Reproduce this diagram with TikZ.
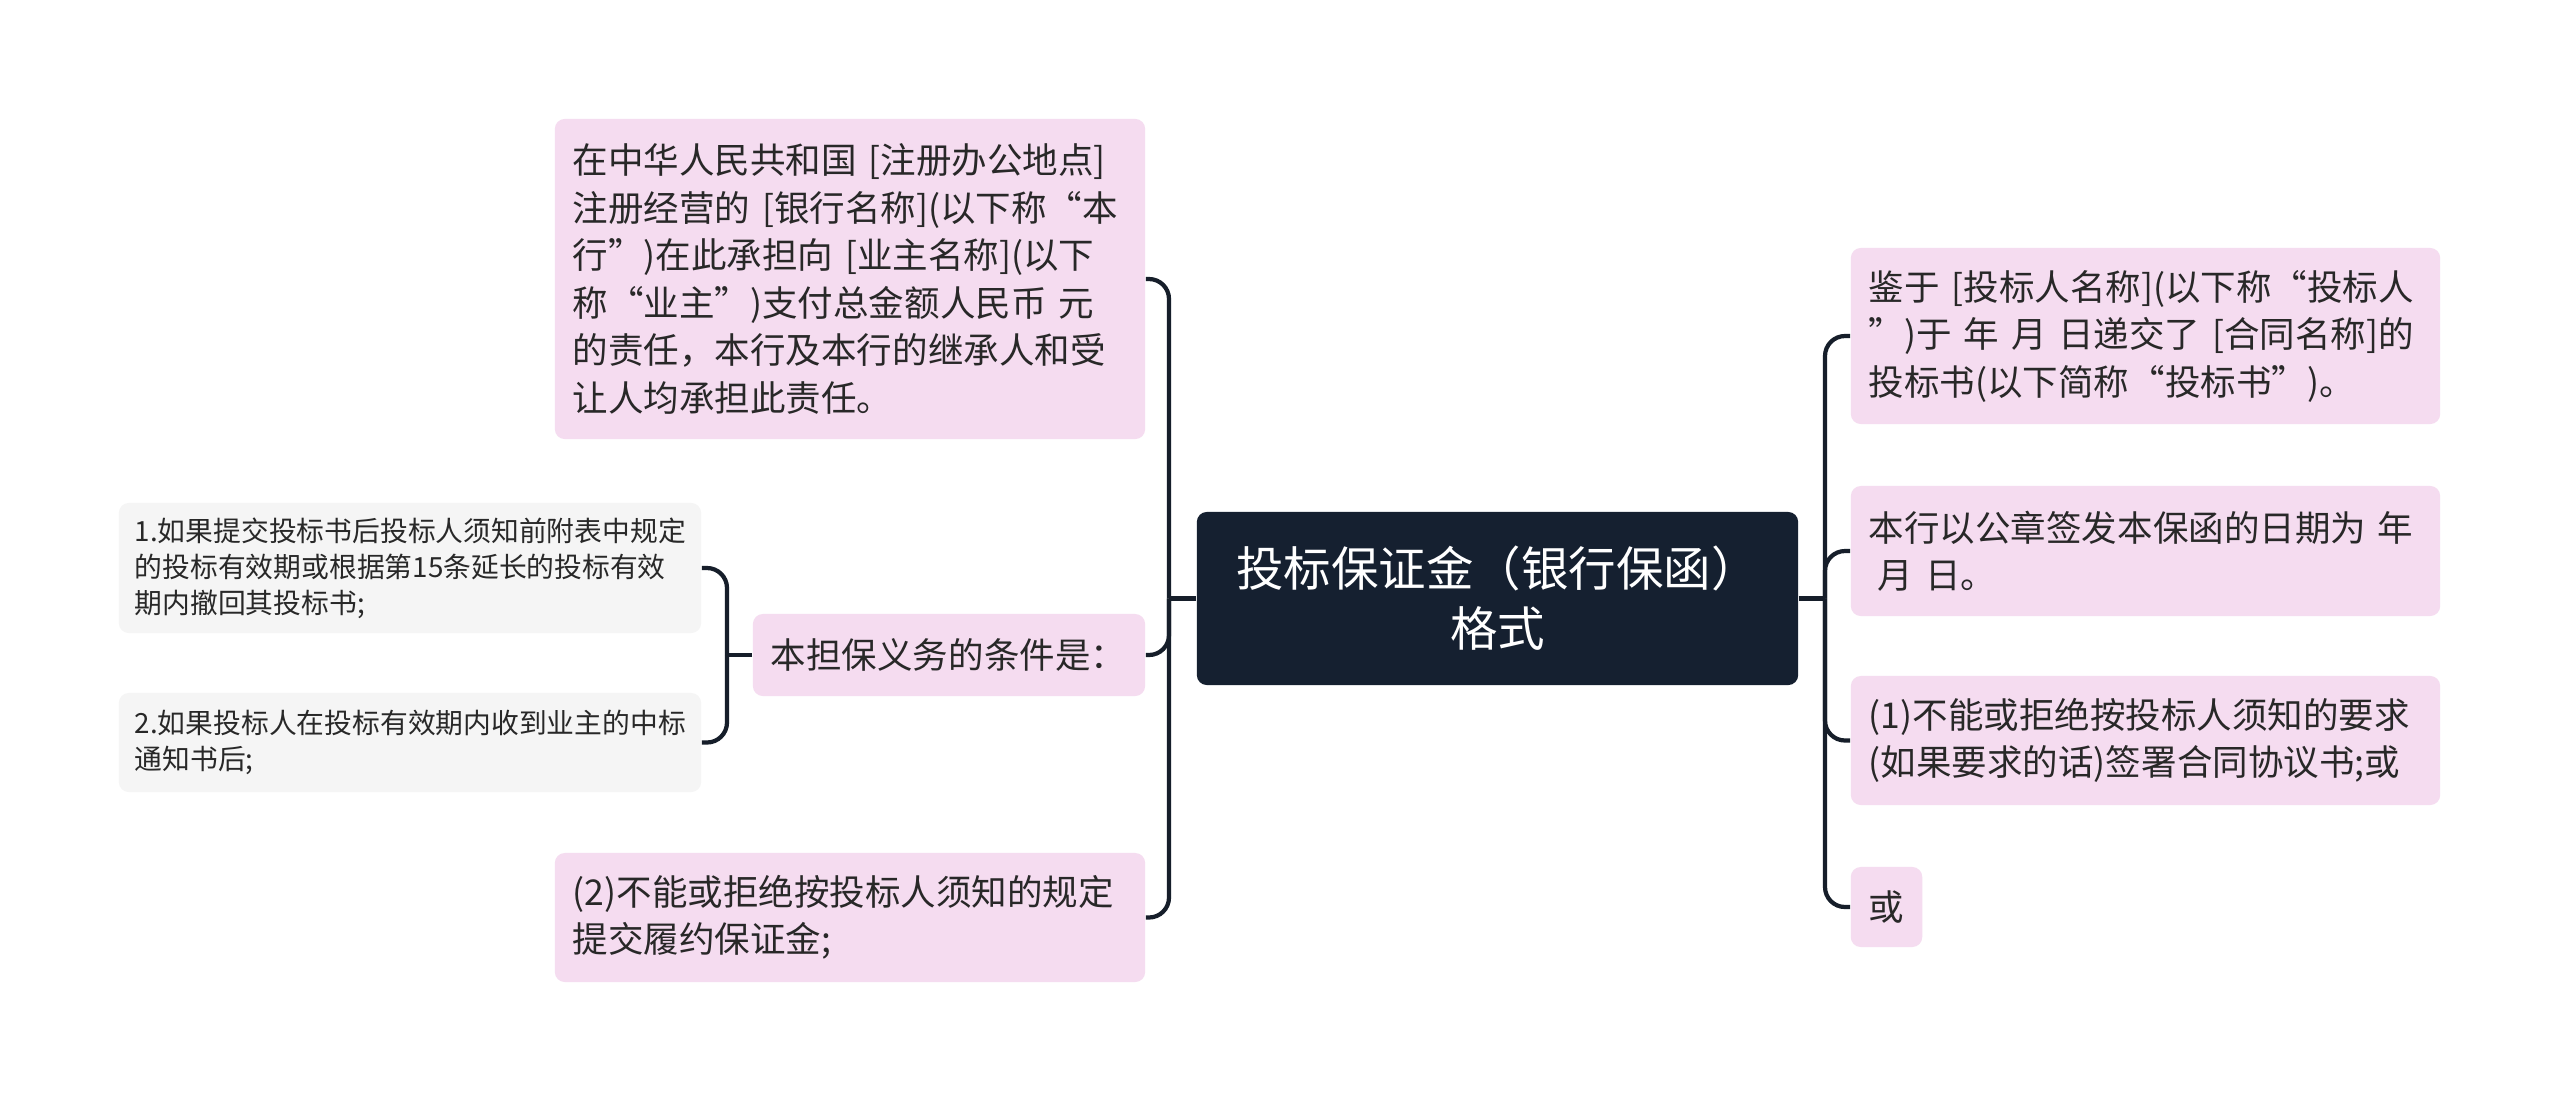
\documentclass[tikz,border=0pt]{standalone}
\usepackage{fontspec}
\setmainfont{Noto Sans CJK SC}
\usepackage{xcolor}
\usepackage{tikz}
\usetikzlibrary{positioning}
\definecolor{ctrbg}{RGB}{21,32,48}
\definecolor{pinkbg}{RGB}{245,220,240}
\definecolor{graybg}{RGB}{245,245,245}
\definecolor{txtc}{RGB}{40,40,40}
\definecolor{linec}{RGB}{22,30,42}
\tikzset{
  topic/.style={fill=ctrbg,rounded corners=0.1cm,text=white,align=center,
    font=\fontsize{13.5}{17.1}\selectfont,minimum width=6.01cm,minimum height=1.73cm},
  pinkbox/.style={fill=pinkbg,rounded corners=0.1cm,text=txtc,align=left,
    font=\fontsize{10.1}{13.5}\selectfont,inner xsep=0.18cm,inner ysep=0.1cm},
  graybox/.style={fill=graybg,rounded corners=0.1cm,text=txtc,align=left,
    font=\fontsize{7.9}{10.2}\selectfont,inner xsep=0.16cm,inner ysep=0.1cm},
  link/.style={draw=linec,line width=1.2pt,rounded corners=0.2cm}
}
\begin{document}
\begin{tikzpicture}[x=0.01cm,y=-0.01cm]
        \useasboundingbox (0,0) rectangle (2560,1102);
        \fill[white] (0,0) rectangle (2560,1102);
        % ---- markaziy tugun ----
        \node[topic] (ctr) at (1497.5,598.5) {投标保证金（银行保函）\\格式};
        % ---- chap tomon ----
        \node[pinkbox,text width=5.54cm,minimum height=3.2cm] (ha) at (850,279)
            {在中华人民共和国 [注册办公地点]\\注册经营的 [银行名称](以下称“本\\行”)在此承担向 [业主名称](以下\\称“业主”)支付总金额人民币 元\\的责任，本行及本行的继承人和受\\让人均承担此责任。};
        \node[pinkbox,text width=3.56cm,minimum height=0.82cm] (hb) at (949,655)
            {本担保义务的条件是：};
        \node[pinkbox,text width=5.54cm,minimum height=1.29cm] (hc) at (850,917.5)
            {(2)不能或拒绝按投标人须知的规定\\提交履约保证金;};
        % ---- shartlar ----
        \node[graybox,text width=5.5cm,minimum height=1.3cm] (g1) at (410,568)
            {1.如果提交投标书后投标人须知前附表中规定\\的投标有效期或根据第15条延长的投标有效\\期内撤回其投标书;};
        \node[graybox,text width=5.5cm,minimum height=0.99cm] (g2) at (410,742.5)
            {2.如果投标人在投标有效期内收到业主的中标\\通知书后;};
        % ---- o'ng tomon ----
        \node[pinkbox,text width=5.53cm,minimum height=1.76cm] (r1) at (2145.5,336)
            {鉴于 [投标人名称](以下称“投标人\\”)于 年 月 日递交了 [合同名称]的\\投标书(以下简称“投标书”)。};
        \node[pinkbox,text width=5.53cm,minimum height=1.3cm] (r2) at (2145.5,551)
            {本行以公章签发本保函的日期为 年\\\hspace{0.25em}月 日。};
        \node[pinkbox,text width=5.53cm,minimum height=1.29cm] (r3) at (2145.5,740.5)
            {(1)不能或拒绝按投标人须知的要求\\(如果要求的话)签署合同协议书;或};
        \node[pinkbox,minimum height=0.8cm] (r4) at (1886.5,907) {或};
        % ---- bog'lovchi chiziqlar ----
        \coordinate (jl) at (1169,598.5);
        \coordinate (jr) at (1825,598.5);
        \coordinate (jg) at (727,655);
        \draw[link] (ctr.west) -- (jl);
        \foreach \n in {ha,hb,hc}
          \draw[link] (jl) |- (\n.east);
        \draw[link] (ctr.east) -- (jr);
        \foreach \n in {r1,r2,r3,r4}
          \draw[link] (jr) |- (\n.west);
        \draw[link] (hb.west) -- (jg);
        \foreach \n in {g1,g2}
          \draw[link] (jg) |- (\n.east);
      \end{tikzpicture}
\end{document}
